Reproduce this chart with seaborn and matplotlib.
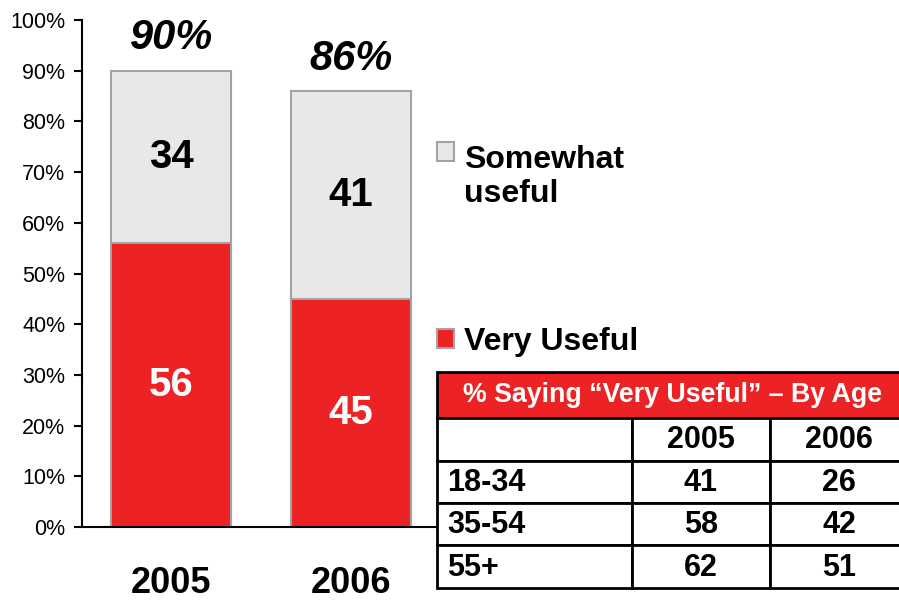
import matplotlib
matplotlib.use("Agg")
import matplotlib.pyplot as plt
from matplotlib.patches import Patch, Rectangle
from matplotlib.legend_handler import HandlerPatch
import seaborn as sns
import pandas as pd

# Survey results: share finding the service useful, by year
years = ["2005", "2006"]
very_useful = [56, 45]
somewhat_useful = [34, 41]

# Breakdown of "Very Useful" by age group
age_groups = ["18-34", "35-54", "55+"]
age_2005 = [41, 58, 62]
age_2006 = [26, 42, 51]
table_title = "% Saying \u201cVery Useful\u201d \u2013 By Age"

RED = "#ED2224"
GRAY = "#E8E8E8"
EDGE = "#A3A3A3"

sns.set_style("white")
plt.rcParams["font.family"] = ["Liberation Sans", "DejaVu Sans"]
plt.rcParams["text.color"] = "black"
plt.rcParams["xtick.color"] = "black"
plt.rcParams["ytick.color"] = "black"

df = pd.DataFrame({"year": years, "very": very_useful, "somewhat": somewhat_useful})
df["total"] = df["very"] + df["somewhat"]

fig = plt.figure(figsize=(8.99, 6.0), dpi=100)
ax = fig.add_axes([82 / 899, 1 - 527 / 600, (437 - 82) / 899, (527 - 20) / 600])

# Stacked bars: full total in gray, "very useful" portion in red on top of it
sns.barplot(data=df, x="year", y="total", color=GRAY, saturation=1, width=0.667,
            edgecolor=EDGE, linewidth=1.5, errorbar=None, ax=ax)
sns.barplot(data=df, x="year", y="very", color=RED, saturation=1, width=0.667,
            edgecolor=EDGE, linewidth=1.5, errorbar=None, ax=ax)

for i, row in df.iterrows():
    ax.text(i, row["very"] / 2, f"{row['very']}", ha="center", va="center",
            color="white", fontsize=29, fontweight="bold")
    ax.text(i, row["very"] + row["somewhat"] / 2, f"{row['somewhat']}", ha="center",
            va="center", color="black", fontsize=29, fontweight="bold")
    ax.text(i, row["total"] + 4.2, f"{row['total']}%", ha="center", va="baseline",
            color="black", fontsize=30, fontweight="bold", fontstyle="italic")

ax.set_ylim(0, 100)
ax.set_xlim(-0.494, 1.478)
ax.set_yticks(range(0, 101, 10))
ax.set_yticklabels([f"{v}%" for v in range(0, 101, 10)], fontsize=15.5)
ax.set_xlabel("")
ax.set_ylabel("")
ax.tick_params(axis="y", direction="out", length=6, width=1.5, color="black", pad=6, left=True)
ax.tick_params(axis="x", length=0, pad=28, labelsize=26)
for lbl in ax.get_xticklabels():
    lbl.set_fontweight("bold")
for side in ["top", "right"]:
    ax.spines[side].set_visible(False)
for side in ["left", "bottom"]:
    ax.spines[side].set_color("black")
    ax.spines[side].set_linewidth(1.5)


def first_line_patch(legend, orig_handle, xdescent, ydescent, width, height, fontsize):
    # Align the swatch with the first line of a two-line label
    return Rectangle((-xdescent, -ydescent + 0.8 * fontsize), width, height)


handles = [Patch(facecolor=GRAY, edgecolor=EDGE, linewidth=1.5),
           Patch(facecolor=RED, edgecolor=EDGE, linewidth=1.5)]
fig.legend(handles, ["Somewhat\nuseful", "Very Useful"], loc="upper left",
           bbox_to_anchor=(424 / 899, 1 - 132 / 600), frameon=False,
           prop={"size": 23, "weight": "bold"}, handlelength=0.55, handleheight=0.55,
           handletextpad=0.3, labelspacing=3.68, borderaxespad=0,
           handler_map={handles[0]: HandlerPatch(patch_func=first_line_patch)})

# Age breakdown table, laid out in pixel-like units
tax = fig.add_axes([437 / 899, 1 - 590 / 600, (908 - 437) / 899, (590 - 372) / 600])
tax.set_xlim(0, 471)
tax.set_ylim(218, 0)
tax.set_axis_off()
col_edges = [0, 195, 333, 471]
row_edges = [0, 46, 89, 131, 173, 216]

tax.add_patch(Rectangle((0, 0), 471, row_edges[1], facecolor=RED, edgecolor="black",
                        linewidth=2, clip_on=False))
tax.text(471 / 2, row_edges[1] / 2, table_title, ha="center", va="center",
         color="white", fontsize=19.3, fontweight="bold")

rows = [[""] + years] + [[g, str(a), str(b)] for g, a, b in zip(age_groups, age_2005, age_2006)]
for r, vals in enumerate(rows, start=1):
    y0, y1 = row_edges[r], row_edges[r + 1]
    for c, val in enumerate(vals):
        x0, x1 = col_edges[c], col_edges[c + 1]
        tax.add_patch(Rectangle((x0, y0), x1 - x0, y1 - y0, facecolor="white",
                                edgecolor="black", linewidth=2, clip_on=False))
        if c == 0:
            tax.text(x0 + 10, (y0 + y1) / 2 + 1, val, ha="left", va="center",
                     fontsize=22, fontweight="bold")
        else:
            tax.text((x0 + x1) / 2, (y0 + y1) / 2 + 1, val, ha="center", va="center",
                     fontsize=22, fontweight="bold")

fig.savefig("out.png", dpi=100)
